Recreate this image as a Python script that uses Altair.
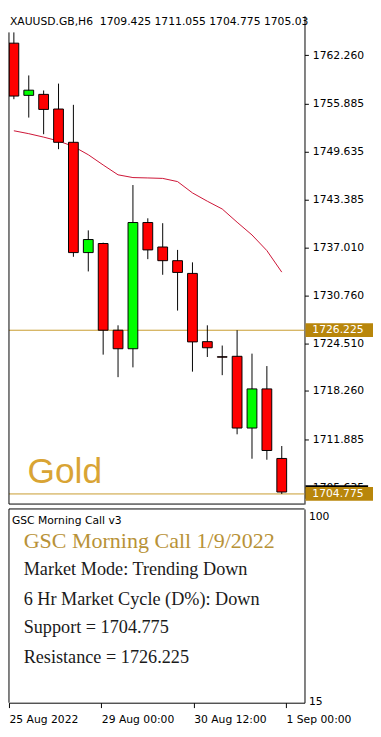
import altair as alt
import pandas as pd

# ---------------- data ----------------
candle_idx = list(range(19))
opens = [1763.84, 1757.00, 1757.13, 1755.21, 1750.85, 1736.40, 1737.59, 1726.23, 1723.80,
         1740.34, 1737.13, 1735.34, 1733.67, 1724.73, 1722.75, 1722.81, 1713.41, 1718.54, 1709.425]
highs = [1765.25, 1759.61, 1757.64, 1758.54, 1755.76, 1739.31, 1737.70, 1726.87, 1745.25,
         1740.89, 1740.25, 1736.75, 1735.12, 1726.87, 1724.22, 1726.23, 1723.16, 1721.53, 1711.055]
lows = [1756.50, 1754.09, 1751.91, 1749.95, 1735.85, 1733.93, 1723.03, 1720.08, 1721.36,
        1735.54, 1733.49, 1728.80, 1720.80, 1722.72, 1720.34, 1712.59, 1709.39, 1709.26, 1704.775]
closes = [1756.91, 1757.68, 1755.16, 1750.85, 1736.40, 1738.11, 1726.23, 1723.80, 1740.34,
          1736.75, 1735.34, 1733.80, 1724.70, 1723.93, 1722.70, 1713.41, 1718.54, 1710.47, 1705.03]
ma_values = [1752.36, 1751.98, 1751.53, 1751.02, 1750.31, 1749.22, 1747.88, 1746.59, 1746.23,
             1746.18, 1746.12, 1745.70, 1744.22, 1743.13, 1742.11, 1740.38, 1738.71, 1736.66, 1733.84]
price_ticks = [1762.260, 1755.885, 1749.635, 1743.385, 1737.010, 1730.760, 1724.510,
               1718.260, 1711.885, 1705.635]
level_values = [1726.225, 1704.775]
bid_price = 1705.03
header_text = "XAUUSD.GB,H6\u00a0\u00a01709.425 1711.055 1704.775 1705.03"
symbol_label = "Gold"
indicator_name = "GSC Morning Call v3"
call_title = "GSC Morning Call 1/9/2022"
call_lines = ["Market Mode: Trending Down", "6 Hr Market Cycle (D%): Down",
              "Support = 1704.775", "Resistance = 1726.225"]
ind_ticks = [15, 100]
date_tick_idx = [0, 6, 12, 18]
date_tick_labels = ["25 Aug 2022", "29 Aug 00:00", "30 Aug 12:00", "1 Sep 00:00"]

# ---------------- layout ----------------
W = 302
H1 = 499
H2 = 198
XDOM = [0, 19.2]
YDOM = [1703.45, 1767.43]
IDOM = [14.3, 103.6]
FONT = "DejaVu Sans"
SERIF = "Liberation Serif"
GOLD_LINE = "#c89b2c"
GOLD_BOX = "#b8860b"

df = pd.DataFrame({"i": candle_idx, "open": opens, "high": highs, "low": lows,
                   "close": closes, "ma": ma_values})
df["dir"] = ["up" if c > o else "down" for o, c in zip(opens, closes)]

xs = alt.Scale(domain=XDOM, nice=False, zero=False)
ys = alt.Scale(domain=YDOM, nice=False, zero=False)
x_enc = alt.X("i:Q", scale=xs, axis=None)
y_axis = alt.Axis(orient="right", values=price_ticks, format=".3f", title=None, grid=False,
                  tickSize=4, labelPadding=4, labelFontSize=11, labelFont=FONT,
                  labelColor="black", domainColor="black", tickColor="black")

base = alt.Chart(df)
one = alt.Chart(pd.DataFrame({"a": [0]}))

ma_line = base.mark_line(color="#cc1133", strokeWidth=1, clip=True).encode(
    x=x_enc, y=alt.Y("ma:Q", scale=ys, axis=y_axis))

lv = alt.Chart(pd.DataFrame({"level": level_values}))
level_rules = lv.mark_rule(color=GOLD_LINE, strokeWidth=1).encode(
    y=alt.Y("level:Q", scale=ys, axis=y_axis), x=alt.value(0), x2=alt.value(W))

wicks = base.mark_rule(color="black", strokeWidth=1, clip=True).encode(
    x=x_enc, y=alt.Y("low:Q", scale=ys, axis=y_axis), y2="high:Q")
bodies = base.mark_bar(size=10, stroke="black", strokeWidth=1, clip=True).encode(
    x=x_enc, y=alt.Y("open:Q", scale=ys, axis=y_axis), y2="close:Q",
    color=alt.Color("dir:N", scale=alt.Scale(domain=["up", "down"],
                                             range=["#00ff00", "#ff0000"]), legend=None))

header = alt.Chart(pd.DataFrame({"t": [header_text]})).mark_text(
    align="left", baseline="alphabetic", fontSize=11, font=FONT, color="black"
).encode(x=alt.value(1), y=alt.value(9), text="t:N")

gold = alt.Chart(pd.DataFrame({"t": [symbol_label]})).mark_text(
    align="left", baseline="alphabetic", fontSize=36, font="Liberation Sans", color="#d9a434"
).encode(x=alt.value(19), y=alt.value(477), text="t:N")

bid_box = alt.Chart(pd.DataFrame({"p": [bid_price]})).transform_calculate(
    top="datum.p + 0.9", bot="datum.p - 0.9").mark_rect(color="black").encode(
    y=alt.Y("top:Q", scale=ys, axis=y_axis), y2="bot:Q",
    x=alt.value(W + 1), x2=alt.value(W + 65))

level_boxes = lv.transform_calculate(
    top="datum.level + 0.9", bot="datum.level - 0.9").mark_rect(color=GOLD_BOX).encode(
    y=alt.Y("top:Q", scale=ys, axis=y_axis), y2="bot:Q",
    x=alt.value(W + 1), x2=alt.value(W + 70))

level_text = lv.mark_text(align="left", baseline="middle", fontSize=11, font=FONT,
                          color="white").encode(
    y=alt.Y("level:Q", scale=ys, axis=y_axis), x=alt.value(W + 8),
    text=alt.Text("level:Q", format=".3f"))

frame_left = one.mark_rule(color="black", strokeWidth=1).encode(
    x=alt.value(0), y=alt.value(17), y2=alt.value(H1))
frame_bottom = one.mark_rule(color="black", strokeWidth=1).encode(
    x=alt.value(0), x2=alt.value(W), y=alt.value(H1))

top = alt.layer(ma_line, level_rules, wicks, bodies, header, gold,
                bid_box, level_boxes, level_text, frame_left, frame_bottom
                ).properties(width=W, height=H1)

# ---------------- lower indicator panel ----------------
label_expr = " : ".join(
    [f"datum.value == {v} ? '{t}'" for v, t in zip(date_tick_idx, date_tick_labels)]) + " : ''"

x_axis_layer = base.mark_point(opacity=0, size=1).encode(
    x=alt.X("i:Q", scale=xs, axis=alt.Axis(
        values=date_tick_idx, labelExpr=label_expr, title=None, grid=False, tickSize=5,
        labelAlign="left", labelBaseline="top", labelPadding=6, labelFontSize=11,
        labelFont=FONT, labelColor="black", domainColor="black", tickColor="black",
        labelOverlap=False, labelFlush=False)),
    y=alt.value(100))

ind_layer = alt.Chart(pd.DataFrame({"lvl": ind_ticks})).mark_rule(opacity=0).encode(
    y=alt.Y("lvl:Q", scale=alt.Scale(domain=IDOM, nice=False, zero=False),
            axis=alt.Axis(orient="right", values=ind_ticks, title=None, grid=False,
                          tickSize=0, labelPadding=4, labelFontSize=11, labelFont=FONT,
                          labelColor="black", domainColor="black")),
    x=alt.value(10), x2=alt.value(20))

name_txt = alt.Chart(pd.DataFrame({"t": [indicator_name]})).mark_text(
    align="left", baseline="alphabetic", fontSize=11, font=FONT, color="black"
).encode(x=alt.value(3), y=alt.value(15), text="t:N")

title_txt = alt.Chart(pd.DataFrame({"t": [call_title]})).mark_text(
    align="left", baseline="alphabetic", fontSize=22.5, font=SERIF, color="#b89237"
).encode(x=alt.value(15), y=alt.value(40), text="t:N")

line_layers = []
for txt, yb in zip(call_lines, [68, 98, 127, 157]):
    line_layers.append(
        alt.Chart(pd.DataFrame({"t": [txt]})).mark_text(
            align="left", baseline="alphabetic", fontSize=18.6, font=SERIF, color="#1a1a1a"
        ).encode(x=alt.value(15), y=alt.value(yb), text="t:N"))

bframe_top = one.mark_rule(color="black", strokeWidth=1).encode(
    x=alt.value(0), x2=alt.value(W), y=alt.value(0))
bframe_left = one.mark_rule(color="black", strokeWidth=1).encode(
    x=alt.value(0), y=alt.value(0), y2=alt.value(H2))

bottom = alt.layer(x_axis_layer, ind_layer, name_txt, title_txt, *line_layers,
                   bframe_top, bframe_left).properties(width=W, height=H2)

chart = alt.vconcat(top, bottom, spacing=3).resolve_scale(
    y="independent").properties(padding=0).configure_view(stroke=None)

chart.save("out.html", embed_options={"renderer": "svg", "actions": False})
